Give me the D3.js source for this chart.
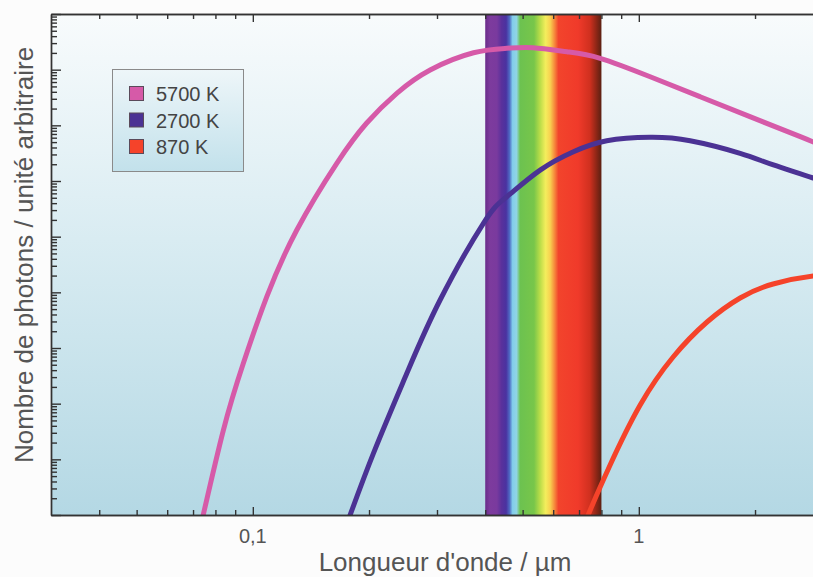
<!DOCTYPE html>
<html>
<head>
	<meta charset="utf-8"/>
	<script src="https://d3js.org/d3.v7.min.js" charset="utf-8"></script>
	<style>
		body{ margin:0; background:#fcfcfc; }
		svg{ display:block; }
		text{ font-family:"Liberation Sans", Arial, sans-serif; fill:#555; }
	</style>
</head>
<body>
<script>
// wavelength (µm) and photon count (arbitrary units)
var lambda5700 = [0.0727, 0.0839, 0.0945, 0.1087, 0.130, 0.165, 0.197, 0.236, 0.288, 0.373, 0.455, 0.532, 0.651, 0.794, 1.07, 1.44, 1.94, 2.62, 3.13];
var photons5700 = [0.5, 33.6, 531, 8340, 1.32e5, 2.08e6, 1.09e7, 3.76e7, 9.86e7, 2.01e8, 2.42e8, 2.48e8, 2.10e8, 1.60e8, 7.47e7, 3.27e7, 1.43e7, 6.25e6, 3.75e6];
var lambda2700 = [0.1744, 0.2053, 0.2506, 0.3056, 0.3957, 0.455, 0.555, 0.677, 0.826, 1.07, 1.358, 1.83, 2.232, 2.83, 3.13];
var photons2700 = [0.63, 12.8, 351, 7280, 1.74e5, 5.22e5, 1.57e6, 3.36e6, 5.29e6, 6.09e6, 5.29e6, 3.14e6, 1.94e6, 1.13e6, 8.1e5];
var lambda870 = [0.7216, 0.739, 0.838, 1.008, 1.227, 1.502, 1.83, 2.228, 2.83, 3.32];
var photons870 = [0.63, 1, 7.3, 94.6, 689, 2930, 7910, 1.41e4, 1.96e4, 2.05e4];

var seriesNames = ["5700 K", "2700 K", "870 K"];
var seriesColors = ["#d65aa8", "#4b3294", "#f5432a"];
var xTickValues = [0.1, 1];
var xTickLabels = ["0,1", "1"];
var visibleBand = [0.4, 0.8];

function draw(){
	var W = 813, H = 577;
	var pl = 51, pt = 14, pb = 515, pr = 823;

	var svg = d3.select('body').append('svg').attr('width', W).attr('height', H);
	var defs = svg.append('defs');

	var x = d3.scaleLog().domain([0.03, 3]).range([pl, pr]);
	var y = d3.scaleLog().domain([1, 1e9]).range([pb, pt]);

	// background gradient
	var bg = defs.append('linearGradient').attr('id', 'bg').attr('x1', 0).attr('y1', 0).attr('x2', 0).attr('y2', 1);
	bg.append('stop').attr('offset', '0%').attr('stop-color', '#f8fbfc');
	bg.append('stop').attr('offset', '45%').attr('stop-color', '#d9ecf2');
	bg.append('stop').attr('offset', '100%').attr('stop-color', '#b4d8e4');

	var lg = defs.append('linearGradient').attr('id', 'lg').attr('x1', 0).attr('y1', 0).attr('x2', 0).attr('y2', 1);
	lg.append('stop').attr('offset', '0%').attr('stop-color', '#eef6f9');
	lg.append('stop').attr('offset', '100%').attr('stop-color', '#c2e1eb');

	// spectrum colours across the visible band
	var spec = [
		[0, '#6a2c8a'], [0.04, '#7d3b9d'], [0.10, '#7a3a9e'], [0.14, '#5a319c'], [0.18, '#4a32a0'],
		[0.21, '#4f6cc4'], [0.235, '#82cdec'], [0.27, '#90d4e4'], [0.30, '#6cc250'], [0.42, '#78c64a'],
		[0.47, '#b8dc48'], [0.52, '#f4ee5c'], [0.56, '#f8d050'], [0.60, '#f6823a'], [0.63, '#f2442c'],
		[0.80, '#f03a2a'], [0.90, '#d0301f'], [0.96, '#8a2616'], [1, '#5a2012']
	];
	var sg = defs.append('linearGradient').attr('id', 'spec').attr('x1', 0).attr('y1', 0).attr('x2', 1).attr('y2', 0);
	sg.selectAll('stop').data(spec).enter().append('stop')
		.attr('offset', function(d){return d[0];})
		.attr('stop-color', function(d){return d[1];});

	defs.append('clipPath').attr('id', 'plot').append('rect')
		.attr('x', pl).attr('y', pt).attr('width', pr - pl).attr('height', pb - pt);

	svg.append('rect').attr('x', pl).attr('y', pt).attr('width', pr - pl).attr('height', pb - pt)
		.attr('fill', 'url(#bg)');

	svg.append('rect')
		.attr('x', x(visibleBand[0])).attr('y', pt)
		.attr('width', x(visibleBand[1]) - x(visibleBand[0])).attr('height', pb - pt)
		.attr('fill', 'url(#spec)');

	// curves
	var series = [
		d3.zip(lambda5700, photons5700),
		d3.zip(lambda2700, photons2700),
		d3.zip(lambda870, photons870)
	];
	var line = d3.line()
		.x(function(d){return x(d[0]);})
		.y(function(d){return y(d[1]);})
		.curve(d3.curveNatural);

	svg.append('g').attr('clip-path', 'url(#plot)')
		.selectAll('path').data(series).enter().append('path')
		.attr('d', line)
		.attr('fill', 'none')
		.attr('stroke', function(d, i){return seriesColors[i];})
		.attr('stroke-width', 5)
		.attr('stroke-linecap', 'round');

	// ticks
	function minors(lo, hi){
		var out = [];
		for(var e = Math.floor(Math.log10(lo)); e <= Math.ceil(Math.log10(hi)); e++){
			for(var k = 2; k <= 9; k++){
				var v = k * Math.pow(10, e);
				if(v > lo * 1.001 && v < hi * 0.999) out.push(v);
			}
		}
		return out;
	}
	var xMinor = minors(0.03, 3);
	var yMajor = d3.range(0, 10).map(function(e){return Math.pow(10, e);});
	var yMinor = minors(1, 1e9);

	function styleAxis(g){
		g.selectAll('path,line').attr('stroke', '#333').attr('stroke-width', 1.4);
		g.selectAll('text').remove();
	}

	svg.append('g').attr('transform', 'translate(0,' + pb + ')')
		.call(d3.axisTop(x).tickValues(xMinor).tickSize(5).tickSizeOuter(0)).call(styleAxis);
	svg.append('g').attr('transform', 'translate(0,' + pb + ')')
		.call(d3.axisTop(x).tickValues(xTickValues).tickSize(8).tickSizeOuter(0)).call(styleAxis);
	svg.append('g').attr('transform', 'translate(0,' + pt + ')')
		.call(d3.axisBottom(x).tickValues(xMinor).tickSize(5).tickSizeOuter(0)).call(styleAxis);
	svg.append('g').attr('transform', 'translate(0,' + pt + ')')
		.call(d3.axisBottom(x).tickValues(xTickValues).tickSize(8).tickSizeOuter(0)).call(styleAxis);
	svg.append('g').attr('transform', 'translate(' + pl + ',0)')
		.call(d3.axisRight(y).tickValues(yMinor).tickSize(6).tickSizeOuter(0)).call(styleAxis);
	svg.append('g').attr('transform', 'translate(' + pl + ',0)')
		.call(d3.axisRight(y).tickValues(yMajor).tickSize(10).tickSizeOuter(0)).call(styleAxis);

	// tick labels
	svg.selectAll('text.xl').data(xTickValues).enter().append('text')
		.attr('class', 'xl')
		.attr('x', function(d){return x(d);})
		.attr('y', 543)
		.attr('text-anchor', 'middle')
		.style('font-size', '20px')
		.text(function(d, i){return xTickLabels[i];});

	svg.append('text').attr('x', 445).attr('y', 571).attr('text-anchor', 'middle')
		.style('font-size', '26px').text("Longueur d'onde / µm");
	svg.append('text').attr('transform', 'translate(33,255) rotate(-90)').attr('text-anchor', 'middle')
		.style('font-size', '26px').text("Nombre de photons / unité arbitraire");

	// legend
	var leg = svg.append('g');
	leg.append('rect').attr('x', 112.5).attr('y', 69.5).attr('width', 131).attr('height', 102)
		.attr('fill', 'url(#lg)').attr('stroke', '#8a8a8a').attr('stroke-width', 1);
	var rows = leg.selectAll('g').data(seriesNames).enter().append('g')
		.attr('transform', function(d, i){return 'translate(0,' + (93.5 + i * 26.5) + ')';});
	rows.append('rect').attr('x', 129.5).attr('y', -7).attr('width', 14).attr('height', 14)
		.attr('fill', function(d, i){return seriesColors[i];})
		.attr('stroke', '#5a4a5a').attr('stroke-width', 1);
	rows.append('text').attr('x', 156).attr('y', 7.5)
		.style('font-size', '20px').style('fill', '#444')
		.text(function(d){return d;});
}
draw();
</script>
</body>
</html>
